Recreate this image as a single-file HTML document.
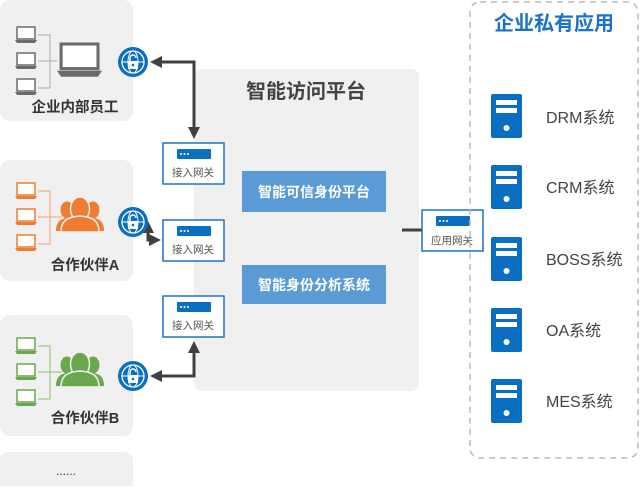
<!DOCTYPE html>
<html><head><meta charset="utf-8"><style>
body{margin:0;width:640px;height:486px;overflow:hidden;background:#fff;font-family:"Liberation Sans","Noto Sans CJK SC",sans-serif}
</style></head><body>
<svg width="640" height="486" viewBox="0 0 640 486" xmlns="http://www.w3.org/2000/svg" font-family="Liberation Sans, Noto Sans CJK SC, sans-serif">
<defs>
<marker id="ah" markerWidth="12" markerHeight="12" refX="8" refY="6" orient="auto-start-reverse" markerUnits="userSpaceOnUse"><path d="M0,0 L12,6 L0,12 z" fill="#404040"/></marker>
<g id="lap"><rect x="2" y="0" width="18" height="12" fill="#fff" stroke="currentColor" stroke-width="1.5"/><path d="M0,13 h22 l-2,3 h-18 z" fill="currentColor"/></g>
<g id="globe"><circle cx="0" cy="0" r="15" fill="#0a6fc2"/><circle cx="0" cy="0" r="11" fill="none" stroke="#fff" stroke-width="1.3"/><ellipse cx="0" cy="0" rx="5" ry="11" fill="none" stroke="#fff" stroke-width="1"/><line x1="-11" y1="0" x2="11" y2="0" stroke="#fff"/><rect x="-5" y="-1" width="10" height="8" fill="#fff"/><path d="M-3,-1 v-3 a3,3 0 0 1 6,0" fill="none" stroke="#fff" stroke-width="1.5"/><circle cx="0" cy="3" r="1.3" fill="#0a6fc2"/></g>
<g id="gw"><rect x="0" y="0" width="61" height="41" fill="#fff" stroke="#1a73c8" stroke-width="1.5"/><rect x="14" y="6" width="34" height="10" rx="1" fill="#0a6fc2"/><circle cx="18" cy="11" r="1" fill="#fff"/><circle cx="21.5" cy="11" r="1" fill="#fff"/><circle cx="25" cy="11" r="1" fill="#fff"/></g>
<g id="srv"><rect x="0" y="0" width="31" height="44" rx="2" fill="#0a6fc2"/><rect x="5" y="6" width="21" height="5" fill="#fff"/><rect x="5" y="14" width="21" height="5" fill="#fff"/><circle cx="15.5" cy="34" r="3" fill="#fff"/></g>
<g id="side"><ellipse cx="0" cy="-6" rx="6.5" ry="8.5"/><path d="M-11,15 c0,-9 4,-12 11,-13 c7,1 11,4 11,13 z"/></g>
<g id="ppl">
<use href="#side" x="-13" y="4"/><use href="#side" x="13" y="4"/>
<ellipse cx="0" cy="-3" rx="9.5" ry="12" stroke="#f0f0f0" stroke-width="1.5"/>
<path d="M-19,20 c0,-11 6,-15 19,-16 c13,1 19,5 19,16 z" stroke="#f0f0f0" stroke-width="1.5"/>
</g>
</defs>

<rect x="0" y="0" width="133" height="121" rx="10" fill="#f0f0f0"/>
<rect x="0" y="160" width="133" height="121" rx="10" fill="#f0f0f0"/>
<rect x="0" y="315" width="133" height="121" rx="10" fill="#f0f0f0"/>
<rect x="0" y="452" width="133" height="40" rx="8" fill="#f0f0f0"/>

<path d="M38,35 H50 V88 H38 M38,61 H57" fill="none" stroke="#aaa"/>
<g color="#6b6b6b"><use href="#lap" x="15" y="27"/><use href="#lap" x="15" y="53"/><use href="#lap" x="15" y="79"/></g>
<g transform="translate(57,44) scale(2.05)" color="#6b6b6b"><use href="#lap"/></g>
<text x="75" y="112" font-size="14.5" font-weight="bold" fill="#333" text-anchor="middle">企业内部员工</text>

<path d="M38,191 H50 V244 H38 M38,217 H62" fill="none" stroke="#f2a56a"/>
<g color="#ee7d31"><use href="#lap" x="15" y="183"/><use href="#lap" x="15" y="209"/><use href="#lap" x="15" y="235"/></g>
<g fill="#ee7d31" transform="translate(80,212)"><use href="#ppl"/></g>
<text x="85" y="270" font-size="14.5" font-weight="bold" fill="#333" text-anchor="middle">合作伙伴A</text>

<path d="M38,346 H50 V399 H38 M38,372 H62" fill="none" stroke="#8dbf6a"/>
<g color="#6aa84f"><use href="#lap" x="15" y="338"/><use href="#lap" x="15" y="364"/><use href="#lap" x="15" y="390"/></g>
<g fill="#6aa84f" transform="translate(80,367)"><use href="#ppl"/></g>
<text x="85" y="423" font-size="14.5" font-weight="bold" fill="#333" text-anchor="middle">合作伙伴B</text>

<text x="66" y="475" font-size="12" fill="#333" text-anchor="middle">......</text>

<rect x="194" y="69" width="225" height="322" rx="8" fill="#f0f0f0"/>
<text x="306" y="98" font-size="20" font-weight="bold" fill="#444" text-anchor="middle">智能访问平台</text>
<rect x="242" y="171" width="144" height="41" fill="#5b9bd5"/>
<text x="314" y="197" font-size="14" font-weight="bold" fill="#fff" text-anchor="middle">智能可信身份平台</text>
<rect x="242" y="265" width="144" height="39" fill="#5b9bd5"/>
<text x="314" y="290" font-size="14" font-weight="bold" fill="#fff" text-anchor="middle">智能身份分析系统</text>

<g stroke="#404040" stroke-width="3" fill="none">
<path d="M154,62 H194 V135" marker-start="url(#ah)" marker-end="url(#ah)"/>
<path d="M148,225 V240 H157" marker-start="url(#ah)" marker-end="url(#ah)"/>
<path d="M154,376 H194 V345" marker-start="url(#ah)" marker-end="url(#ah)"/>
<path d="M402,230 H422"/>
</g>

<use href="#globe" x="133" y="62"/>
<use href="#globe" x="133" y="222"/>
<use href="#globe" x="133" y="376"/>

<use href="#gw" x="163" y="143"/><text x="193" y="176" font-size="10.5" fill="#555" text-anchor="middle">接入网关</text>
<use href="#gw" x="163" y="220"/><text x="193" y="253" font-size="10.5" fill="#555" text-anchor="middle">接入网关</text>
<use href="#gw" x="163" y="296"/><text x="193" y="329" font-size="10.5" fill="#555" text-anchor="middle">接入网关</text>
<use href="#gw" x="422" y="210"/><text x="452" y="244" font-size="10.5" fill="#555" text-anchor="middle">应用网关</text>

<rect x="470" y="2" width="168" height="456" rx="10" fill="none" stroke="#bbb" stroke-width="1.5" stroke-dasharray="6,5"/>
<text x="554" y="30" font-size="20" font-weight="bold" fill="#1a73c8" text-anchor="middle">企业私有应用</text>
<use href="#srv" x="491" y="94"/><text x="546" y="123" font-size="16" fill="#444">DRM系统</text>
<use href="#srv" x="491" y="165"/><text x="546" y="193" font-size="16" fill="#444">CRM系统</text>
<use href="#srv" x="491" y="237"/><text x="546" y="265" font-size="16" fill="#444">BOSS系统</text>
<use href="#srv" x="491" y="308"/><text x="546" y="336" font-size="16" fill="#444">OA系统</text>
<use href="#srv" x="491" y="379"/><text x="546" y="407" font-size="16" fill="#444">MES系统</text>
</svg>
</body></html>
